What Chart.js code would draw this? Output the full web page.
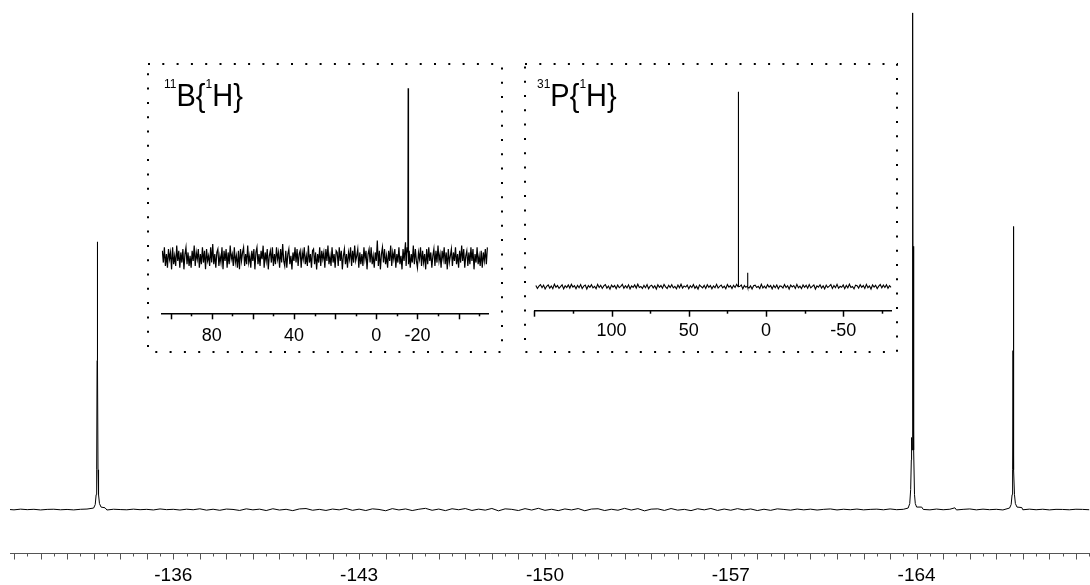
<!DOCTYPE html>
<html>
<head>
<meta charset="utf-8">
<script src="https://cdn.jsdelivr.net/npm/chart.js@4.4.1/dist/chart.umd.min.js"></script>
<style>
body { margin: 0; background: #fff; }
#wrap { position: relative; width: 1090px; height: 585px; overflow: hidden; background: #fff; }
canvas { position: absolute; }
.nuc { position: absolute; font: 29px "Liberation Sans", Arial, sans-serif; line-height: 29px; color: #000; white-space: nowrap; transform: scaleY(1.06); transform-origin: left bottom; }
.nuc span { font-size: 12px; vertical-align: 17px; line-height: 0; }
</style>
</head>
<body>
<div id="wrap">
  <canvas id="fluorine" width="1090" height="585" style="left:0;top:0"></canvas>
  <canvas id="boron" width="356" height="290" style="left:147px;top:63px"></canvas>
  <canvas id="phosphorus" width="374" height="290" style="left:524px;top:63px"></canvas>
  <div class="nuc" style="left:164px;top:82px"><span>11</span>B{<span>1</span>H}</div>
  <div class="nuc" style="left:537px;top:82px"><span>31</span>P{<span>1</span>H}</div>
</div>
<script>
Chart.defaults.font.family = '"Liberation Sans", Arial, sans-serif';

// 19F spectrum, baseline sampled every 0.25 ppm starting at -129.75 ppm
const fStart = -129.75, fStep = 0.25;
const fBaseline = [
  0.04, -0.06, 0.08, -0.02, 0.05, -0.08, 0.03, 0.06, -0.05, 0.02,
  -0.07, 0.05, 0.1, -0.04, 0.02, -0.09, 0.06, 0.0, -0.05, 0.08,
  -0.03, 0.04, -0.08, 0.12, -0.02, 0.05, -0.1, 0.07, -0.04, 0.15,
  -0.12, 0.06, -0.15, 0.1, 0.02, -0.18, 0.14, -0.06, 0.08, -0.2,
  0.16, -0.1, 0.05, -0.22, 0.12, 0.2, -0.14, 0.04, -0.18, 0.1,
  -0.06, 0.22, -0.16, 0.08, -0.2, 0.14, 0.02, -0.24, 0.18, -0.08,
  0.12, -0.2, 0.06, 0.24, -0.15, 0.1, -0.22, 0.16, -0.04, 0.2,
  -0.18, 0.08, -0.12, 0.22, -0.26, 0.14, 0.04, -0.2, 0.18, -0.1,
  0.25, -0.16, 0.06, -0.22, 0.12, -0.08, 0.2, -0.24, 0.1, 0.16,
  -0.2, 0.06, -0.14, 0.24, -0.1, 0.18, -0.26, 0.08, 0.14, -0.18,
  0.2, -0.12, 0.04, -0.22, 0.16, -0.06, 0.22, -0.18, 0.1, -0.14,
  0.18, -0.08, 0.12, -0.2, 0.06, -0.16, 0.14, 0.02, -0.12, 0.1,
  -0.06, 0.08, -0.1, 0.04, 0.12, -0.08, 0.06, -0.04, 0.1, -0.06,
  0.03, 0.08, -0.05, 0.12, -0.03, 0.05, -0.08, 0.06, 0.02, -0.06,
  0.1, -0.04, 0.06, -0.08, 0.04, 0.12, -0.06, 0.08, -0.03, 0.05,
  -0.08, 0.06, 0.02, -0.05, 0.08, -0.04, 0.06, -0.07, 0.04, 0.02,
  -0.05, 0.06, 0.03, -0.04
];
// [ppm, intensity] points of the resonances
const fPeaks = [
  [-133.0, 0.3], [-133.06, 1.0], [-133.095, 3], [-133.115, 8], [-133.13, 30], [-133.14, 53.9],
  [-133.15, 30], [-133.165, 8], [-133.185, 3], [-133.22, 1.2], [-133.28, 0.5], [-133.43, 0.35],
  [-163.68, 0.3], [-163.74, 1.2], [-163.775, 4], [-163.8, 10], [-163.81, 14.5], [-163.83, 12],
  [-163.85, 100], [-163.865, 30], [-163.88, 53], [-163.895, 12], [-163.92, 3], [-163.95, 1.2],
  [-164.0, 0.5], [-164.19, 0.5], [-165.44, 0.35],
  [-167.5, 0.3], [-167.56, 1.0], [-167.595, 3], [-167.615, 8], [-167.63, 32], [-167.64, 57],
  [-167.65, 32], [-167.665, 8], [-167.685, 3], [-167.72, 1.2], [-167.78, 0.5], [-167.96, 0.4]
];
const fLabels = [-136, -143, -150, -157, -164];

// 11B{1H} inset, sampled every 0.5 ppm from 104 ppm
const bStart = 104, bStep = 0.5;
const bNoise = [
  4, -3, 6, -5, 2, -6, 5, -1, 3, -7,
  6, -4, 1, -5, 7, -2, 4, -6, 3, -3,
  5, -7, 2, 6, -4, 3, -5, 1, -6, 4,
  -2, 7, -5, 3, -1, 5, -6, 2, -4, 6,
  -3, 4, -7, 5, -2, 1, -5, 6, -3, 8,
  -4, 2, -6, 3, 5, -5, 1, -3, 6, -7,
  4, -2, 5, -6, 3, -4, 7, -1, 2, -5,
  6, -3, 1, -6, 4, -7, 5, -2, 3, 6,
  -5, 2, -4, 7, -3, 1, -6, 4, -2, 5,
  -7, 3, 6, -4, 2, -5, 4, -1, 7, -6,
  3, -2, 5, -7, 1, 4, -3, 6, -5, 2,
  -4, 6, -1, 3, -6, 5, -3, 8, -2, -5,
  4, -6, 2, 5, -4, 1, -7, 3, -2, 6,
  -3, 5, -5, 2, 4, -6, 3, -1, 6, -4,
  1, -5, 7, -3, 2, -6, 4, 5, -4, 3,
  -7, 2, -3, 6, -5, 4, -1, 3, -6, 5,
  -2, 7, -4, 1, -5, 6, -3, 2, -6, 4,
  3, -5, 6, -2, 4, -7, 1, 5, -4, 2,
  -6, 3, -1, 6, -5, 4, -3, 7, -2, 1,
  5, -6, 3, -4, 2, -5, 6, -1, 4, -7,
  2, 5, -3, 6, -4, 1, -6, 3, -2, 5,
  -5, 4, -7, 2, 6, -3, 5, -4, 1, -6,
  4, -2, 7, -5, 3, -1, 5, -6, 2, -3,
  6, -4, 1, -7, 5, -2, 3, -5, 6, -1,
  4, -6, 2, -3, 7, -4, 5, -2, -6, 3,
  -1, 6, -5, 4, -3, 2, -7, 5, -4, 6,
  -2, 3, -6, 1, 5, -5, 4, -3, 7, -2,
  2, -6, 4, -1, 6, -4, 3, -7, 5, -3,
  1, 5, -5, 3, -2, 6, -4, 2, -6, 4,
  -3, 7, -2, 5, -6, 1, 4, -5, 3, -4,
  6, -2, 5, -7, 2, -3, 6, -4, 1, -5,
  4, -6, 3, -2, 5, -4, 6
];
const bPeaks = [[-0.5, 10], [-14.2, 9], [-15.35, 3], [-15.5, 100], [-15.65, -4]];
const bLabels = [80, 40, 0, -20];

// 31P{1H} inset, sampled every 1 ppm from 149 ppm
const pStart = 149, pStep = 1;
const pNoise = [
  0.6, -0.9, 0.3, 1.1, -0.5, 0.8, -1.2, 0.2, 0.9, -0.7,
  0.4, -1.0, 1.3, -0.3, 0.6, -0.8, 0.1, 1.0, -1.1, 0.5,
  -0.4, 0.9, -0.7, 1.2, -0.2, 0.5, -1.0, 0.7, -0.5, 1.1,
  -0.9, 0.3, 0.8, -1.2, 0.6, -0.3, 1.0, -0.6, 0.2, -1.0,
  1.2, -0.4, 0.7, -0.9, 0.4, 1.1, -0.7, 0.3, -1.3, 0.8,
  -0.2, 0.6, -1.0, 0.9, -0.5, 0.2, 1.2, -0.8, 0.5, -0.6,
  1.0, -1.1, 0.4, -0.3, 0.9, -0.7, 1.3, -0.4, 0.1, -0.9,
  0.7, -0.5, 1.1, -1.0, 0.3, 0.8, -0.6, 0.5, -1.2, 1.0,
  -0.3, 0.6, -0.8, 1.2, -0.1, -0.9, 0.7, -0.4, 1.0, -0.6,
  0.2, -1.1, 0.9, -0.5, 1.3, -0.7, 0.4, -0.2, 0.8, -1.0,
  0.5, -0.4, 1.1, -0.8, 0.3, -1.2, 0.9, 0.1, -0.6, 0.7,
  -0.9, 1.0, -0.3, 0.6, -1.1, 0.4, -0.5, 1.2, -0.7, 0.2,
  0.8, -0.6, 0.3, -1.0, 1.1, -0.2, 0.5, -0.9, 0.7, -0.4,
  1.2, -0.8, 0.1, 0.9, -1.1, 0.6, -0.3, 1.0, -0.7, 0.4,
  -1.2, 0.5, 0.8, -0.4, 0.2, -0.9, 1.3, -0.6, 0.3, -0.8,
  1.0, -0.2, 0.6, -1.1, 0.7, -0.5, 0.9, -1.0, 0.4, 0.2,
  -0.7, 1.1, -0.4, 0.5, -1.2, 0.8, -0.1, 0.6, -0.9, 1.2,
  -0.5, 0.3, -1.0, 0.9, -0.3, 0.7, -0.8, 1.1, -0.6, 0.2,
  0.9, -1.2, 0.4, -0.2, 1.0, -0.7, 0.5, -1.1, 0.8, -0.4,
  0.3, 1.1, -0.9, 0.6, -0.5, 1.2, -0.8, 0.2, -0.3, 0.9,
  -1.0, 0.7, -0.6, 1.3, -0.4, 0.1, -1.1, 0.8, 0.5, -0.7,
  1.0, -0.3, 0.6, -0.9, 1.2, -0.5, 0.4, -1.2, 0.9, -0.2,
  0.7, -1.0, 0.3, 1.1, -0.6, 0.8, -0.4, 1.0, -0.8, 0.5,
  -0.3
];
const pPeaks = [[18.05, 0], [17.9, 100], [17.75, 0.2], [12.05, 0.4], [11.9, 7.2], [11.75, -0.3]];
const pLabels = [100, 50, 0, -50];

// merge the sampled baseline with the peak points, dropping samples that fall inside a peak
function buildTrace(start, step, values, peaks, gap) {
  const pts = values
    .map((v, i) => ({ x: start - i * step, y: v }))
    .filter(p => !peaks.some(([c, h]) => h > 5 && Math.abs(p.x - c) < gap));
  peaks.forEach(([x, y]) => pts.push({ x, y }));
  return pts.sort((a, b) => b.x - a.x);
}

// long ticks on the major step, short ones in between
const tickMarks = {
  id: 'tickMarks',
  afterDraw(chart, args, opts) {
    const sc = chart.scales.x, ctx = chart.ctx;
    ctx.save();
    ctx.strokeStyle = opts.color;
    ctx.lineWidth = opts.width;
    sc.ticks.forEach(t => {
      const r = t.value / opts.major;
      const len = Math.abs(r - Math.round(r)) < 1e-6 ? opts.long : opts.short;
      const px = Math.round(sc.getPixelForValue(t.value)) + 0.5;
      ctx.beginPath();
      ctx.moveTo(px, sc.top);
      ctx.lineTo(px, sc.top + len);
      ctx.stroke();
    });
    ctx.restore();
  }
};

const dottedBox = {
  id: 'dottedBox',
  afterDraw(chart) {
    const ctx = chart.ctx;
    ctx.save();
    ctx.setLineDash([2, 12.3]);
    ctx.lineWidth = 2;
    ctx.strokeStyle = '#000';
    ctx.strokeRect(1, 1, chart.width - 2, chart.height - 2);
    ctx.restore();
  }
};

function spectrum(id, data, o) {
  return new Chart(document.getElementById(id), {
    type: 'line',
    data: {
      datasets: [{ data: data, borderColor: '#000', borderWidth: o.lineWidth, pointRadius: 0, tension: 0 }]
    },
    options: {
      responsive: false,
      animation: false,
      events: [],
      layout: { padding: o.padding },
      plugins: { legend: { display: false }, tooltip: { enabled: false }, tickMarks: o.marks },
      scales: {
        x: {
          type: 'linear', reverse: true, min: o.min, max: o.max,
          border: { color: o.marks.color, width: o.marks.width },
          grid: { display: false, drawTicks: true, tickLength: o.labelGap },
          ticks: {
            stepSize: o.step, includeBounds: false, autoSkip: false, maxRotation: 0,
            padding: 0, color: '#000', font: { size: o.fontSize, lineHeight: 1 },
            callback: v => o.labels.some(l => Math.abs(l - v) < 1e-6) ? String(v) : ''
          }
        },
        y: { display: false, min: o.ymin, max: o.ymax }
      }
    },
    plugins: o.box ? [tickMarks, dottedBox] : [tickMarks]
  });
}

spectrum('fluorine', buildTrace(fStart, fStep, fBaseline, fPeaks, 0.15), {
  min: -170.53, max: -129.85, step: 0.5, labels: fLabels, lineWidth: 1, fontSize: 19,
  ymin: -8.85, ymax: 102.6, labelGap: 12.5,
  padding: { left: 10, right: 0, top: 0, bottom: 0 },
  marks: { color: '#555', width: 1, major: 1, long: 6, short: 3 }
});

spectrum('boron', buildTrace(bStart, bStep, bNoise, bPeaks, 0.3), {
  min: -54.3, max: 104.3, step: 10, labels: bLabels, lineWidth: 1.2, fontSize: 18,
  ymin: -32.98, ymax: 114.95, labelGap: 14.2, box: true,
  padding: { left: 14.7, right: 15, top: 0, bottom: 7.5 },
  marks: { color: '#000', width: 1.5, major: 20, long: 6, short: 3 }
});

spectrum('phosphorus', buildTrace(pStart, pStep, pNoise, pPeaks, 0.3), {
  min: -81.4, max: 150, step: 25, labels: pLabels, lineWidth: 1.1, fontSize: 18,
  ymin: -12.3, ymax: 114.7, labelGap: 11.3, box: true,
  padding: { left: 10.3, right: 6.3, top: 0, bottom: 13 },
  marks: { color: '#000', width: 1.5, major: 50, long: 6, short: 3 }
});
</script>
</body>
</html>
